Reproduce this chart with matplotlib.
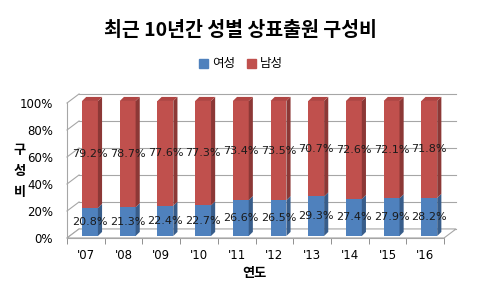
import matplotlib
matplotlib.use("Agg")
import matplotlib.pyplot as plt
from matplotlib.patches import Polygon, Patch

plt.rcParams['font.family'] = ['DejaVu Sans', 'Noto Sans CJK KR']

years = ["'07", "'08", "'09", "'10", "'11", "'12", "'13", "'14", "'15", "'16"]
female = [20.8, 21.3, 22.4, 22.7, 26.6, 26.5, 29.3, 27.4, 27.9, 28.2]
male = [79.2, 78.7, 77.6, 77.3, 73.4, 73.5, 70.7, 72.6, 72.1, 71.8]
yticks = [0, 20, 40, 60, 80, 100]

blue, blue_side = '#4F81BD', '#385D8A'
red, red_side, red_top = '#C0504D', '#8C3836', '#B04543'
grid = '#A6A6A6'

fig = plt.figure(figsize=(4.8, 2.88), dpi=100)
ax = fig.add_axes([67/480, 50/288, 377/480, 135/288])
ax.set_xlim(0, len(years))
ax.set_ylim(0, 100)
for s in ax.spines.values():
    s.set_visible(False)

# walls / floor (3d look)
wx, wy = 0.32, 6.7
n = len(years)
for v in yticks:
    ax.plot([wx, n + wx], [v + wy, v + wy], color=grid, lw=0.8, clip_on=False, zorder=1)
    ax.plot([0, wx], [v, v + wy], color=grid, lw=0.8, clip_on=False, zorder=1)
ax.plot([0, 0], [0, 100], color=grid, lw=0.8, clip_on=False, zorder=1)
ax.add_patch(Polygon([(0, 0), (n, 0), (n + wx, wy), (wx, wy)], closed=True,
                     facecolor='white', edgecolor=grid, lw=0.8, clip_on=False, zorder=1))

# bars
w, dx, dy, oy = 0.42, 0.11, 3.0, 1.5
for i in range(n):
    x0 = i + 0.40
    segs = [(oy, oy + female[i], blue, blue_side), (oy + female[i], oy + female[i] + male[i], red, red_side)]
    for b, t, c, cs in segs:
        ax.bar(x0, t - b, width=w, bottom=b, align='edge', color=c, lw=0, zorder=3, clip_on=False)
        ax.add_patch(Polygon([(x0 + w, b), (x0 + w + dx, b + dy), (x0 + w + dx, t + dy), (x0 + w, t)],
                             closed=True, facecolor=cs, lw=0, zorder=3, clip_on=False))
    top = oy + female[i] + male[i]
    ax.add_patch(Polygon([(x0, top), (x0 + dx, top + dy), (x0 + w + dx, top + dy), (x0 + w, top)],
                         closed=True, facecolor=red_top, lw=0, zorder=3, clip_on=False))
    ax.text(x0 + w / 2, oy + female[i] / 2, f'{female[i]:.1f}%', ha='center', va='center',
            fontsize=8, color='#1a1a1a', zorder=5)
    ax.text(x0 + w / 2, oy + female[i] + male[i] / 2, f'{male[i]:.1f}%', ha='center', va='center',
            fontsize=8, color='#1a1a1a', zorder=5)

ax.set_yticks(yticks)
ax.set_yticklabels([f'{v}%' for v in yticks], fontsize=8.5)
ax.tick_params(axis='y', length=0, pad=10)
ax.set_xticks([i + 0.5 for i in range(n)])
ax.set_xticklabels(years, fontsize=8.5)
ax.set_xticks(range(n + 1), minor=True)
ax.tick_params(axis='x', which='major', length=0, pad=8)
ax.tick_params(axis='x', which='minor', length=4, color='#7f7f7f')
ax.plot([0, n], [0, 0], color=grid, lw=0.8, clip_on=False, zorder=2)

fig.text(0.5, 1 - 30/288, '최근 10년간 성별 상표출원 구성비', ha='center', va='center',
         fontsize=14, fontweight='bold', family=['Noto Sans CJK KR'])
fig.text(20/480, 1 - 171/288, '구\n성\n비', ha='center', va='center', fontsize=9.5,
         fontweight='bold', family=['Noto Sans CJK KR'], linespacing=1.6)
fig.text(254/480, 1 - 273/288, '연도', ha='center', va='center', fontsize=9.5,
         fontweight='bold', family=['Noto Sans CJK KR'])

handles = [Patch(color=blue, label='여성'), Patch(color=red, label='남성')]
fig.legend(handles=handles, loc='center', bbox_to_anchor=(241/480, 1 - 64/288), ncol=2,
           frameon=False, handlelength=0.7, handleheight=0.7, handletextpad=0.3,
           columnspacing=1.0, prop={'family': ['Noto Sans CJK KR'], 'size': 9})

fig.savefig('out.png', dpi=100)
